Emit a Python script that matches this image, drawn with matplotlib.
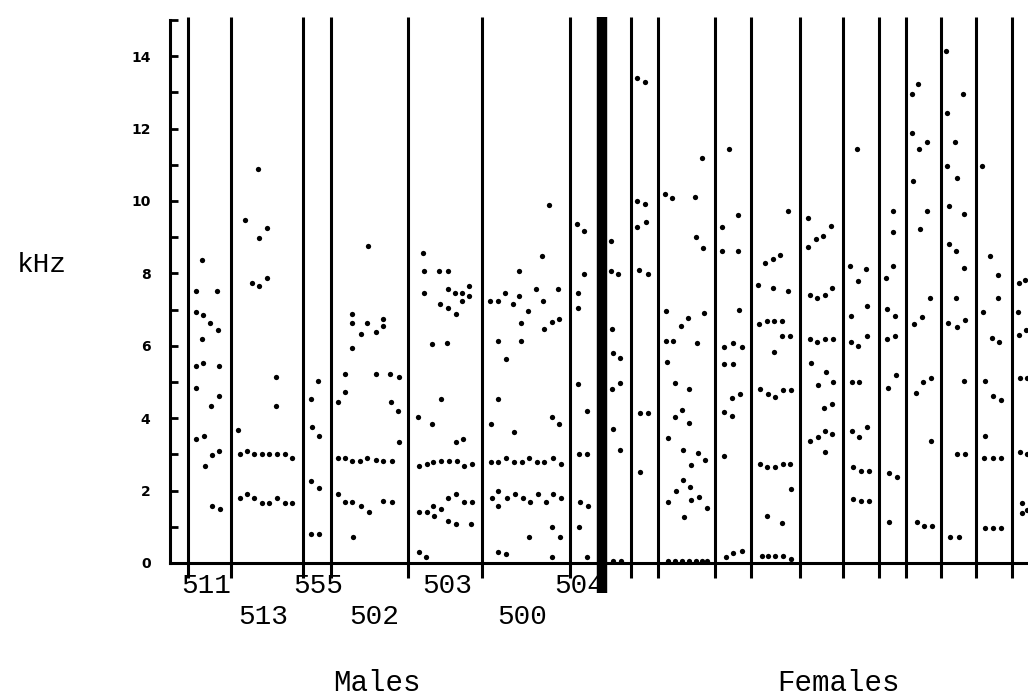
import matplotlib

matplotlib.use("Agg")
import matplotlib.pyplot as plt
from matplotlib.ticker import MultipleLocator

# formant points per speaker as (time, kHz)
m511 = [(32, 8.36), (26, 7.52), (47, 7.52), (26, 6.94), (33, 6.84), (40, 6.62),
        (48, 6.44), (32, 6.20), (26, 5.43), (33, 5.52), (49, 5.43), (26, 4.84),
        (49, 4.60), (41, 4.33), (26, 3.42), (34, 3.50), (35, 2.67), (42, 2.99),
        (49, 3.09), (42, 1.57), (50, 1.48)]
m513 = [(88, 10.88), (75, 9.48), (97, 9.25), (89, 8.97), (97, 7.87), (82, 7.73),
        (89, 7.65), (106, 5.13), (106, 4.34), (68, 3.68), (70, 3.00), (77, 3.09),
        (84, 3.0), (92, 3.0), (99, 3.0), (107, 3.0), (115, 3.0), (122, 2.91),
        (70, 1.79), (77, 1.91), (84, 1.79), (92, 1.67), (99, 1.67), (107, 1.79),
        (115, 1.67), (122, 1.67)]
m555 = [(148, 5.04), (141, 4.54), (142, 3.75), (149, 3.51), (141, 2.27),
        (149, 2.08), (141, 0.79), (149, 0.79)]
m502 = [(198, 8.76), (182, 6.87), (182, 6.64), (191, 6.32), (197, 6.64),
        (206, 6.37), (213, 6.56), (213, 6.74), (182, 5.95), (175, 5.21),
        (206, 5.21), (220, 5.22), (229, 5.13), (175, 4.72), (168, 4.45),
        (221, 4.45), (228, 4.21), (229, 3.33), (168, 2.91), (175, 2.91),
        (182, 2.82), (190, 2.82), (197, 2.91), (206, 2.85), (213, 2.82),
        (222, 2.82), (168, 1.91), (175, 1.69), (182, 1.69), (191, 1.58),
        (199, 1.40), (213, 1.72), (222, 1.68), (183, 0.71)]
m503 = [(253, 8.57), (254, 8.06), (269, 8.07), (278, 8.07), (254, 7.45),
        (278, 7.56), (285, 7.47), (292, 7.47), (299, 7.65), (299, 7.38),
        (292, 7.24), (270, 7.15), (278, 7.05), (286, 6.87), (262, 6.04),
        (277, 6.07), (271, 4.53), (248, 4.02), (262, 3.84), (286, 3.33),
        (293, 3.43), (249, 2.69), (257, 2.73), (263, 2.80), (271, 2.82),
        (279, 2.82), (287, 2.82), (294, 2.69), (302, 2.73), (249, 1.40),
        (257, 1.40), (264, 1.30), (263, 1.57), (271, 1.48), (278, 1.80),
        (286, 1.91), (294, 1.68), (302, 1.68), (278, 1.17), (286, 1.07),
        (301, 1.07), (249, 0.30), (256, 0.16)]
m500 = [(379, 9.90), (372, 8.48), (349, 8.06), (366, 7.56), (388, 7.56),
        (335, 7.45), (349, 7.38), (320, 7.24), (328, 7.24), (343, 7.15),
        (373, 7.24), (358, 6.96), (351, 6.64), (382, 6.65), (389, 6.73),
        (374, 6.46), (328, 6.13), (351, 6.13), (336, 5.64), (328, 4.53),
        (321, 3.84), (344, 3.61), (382, 4.02), (389, 3.84), (321, 2.80),
        (328, 2.80), (336, 2.91), (344, 2.80), (352, 2.80), (359, 2.91),
        (367, 2.80), (374, 2.80), (383, 2.91), (391, 2.73), (322, 1.80),
        (328, 2.00), (337, 1.79), (345, 1.91), (353, 1.79), (360, 1.68),
        (368, 1.91), (376, 1.68), (383, 1.91), (391, 1.79), (328, 1.57),
        (359, 0.71), (382, 0.99), (390, 0.71), (328, 0.30), (336, 0.24),
        (382, 0.16)]
m504 = [(407, 9.36), (414, 9.18), (414, 7.97), (408, 7.47), (408, 7.05),
        (408, 4.94), (417, 4.21), (409, 3.01), (417, 3.01), (410, 1.68),
        (418, 1.58), (409, 0.99), (417, 0.16)]

f1 = [(441, 8.90), (441, 8.07), (448, 7.98), (442, 6.46), (443, 5.79),
      (450, 5.65), (450, 4.96), (442, 4.80), (443, 3.70), (450, 3.12),
      (443, 0.06), (451, 0.06)]
f2 = [(467, 13.41), (475, 13.28), (467, 10.0), (475, 9.91), (467, 9.27),
      (476, 9.41), (469, 8.09), (478, 7.98), (470, 4.14), (478, 4.14),
      (470, 2.51)]
f3 = [(495, 10.18), (502, 10.09), (525, 10.10), (532, 11.20), (526, 9.00),
      (533, 8.69), (496, 6.97), (496, 6.14), (503, 6.14), (497, 5.56),
      (511, 6.56), (518, 6.76), (534, 6.90), (527, 6.07), (505, 4.96),
      (519, 4.80), (512, 4.23), (505, 4.04), (519, 3.86), (498, 3.44),
      (513, 3.12), (528, 3.05), (521, 2.71), (535, 2.85), (513, 2.29),
      (506, 2.00), (520, 2.09), (529, 1.83), (521, 1.74), (498, 1.69),
      (537, 1.51), (514, 1.28), (498, 0.06), (505, 0.06), (512, 0.06),
      (519, 0.06), (526, 0.06), (532, 0.06), (537, 0.06)]
f4 = [(559, 11.43), (568, 9.61), (552, 9.29), (552, 8.62), (568, 8.62),
      (569, 6.99), (554, 5.98), (563, 6.09), (572, 5.98), (554, 5.49),
      (563, 5.49), (562, 4.57), (570, 4.66), (554, 4.16), (562, 4.06),
      (554, 2.96), (556, 0.17), (563, 0.27), (572, 0.33)]
f5 = [(618, 9.72), (595, 8.30), (603, 8.39), (610, 8.51), (588, 7.68),
      (603, 7.61), (618, 7.51), (589, 6.59), (597, 6.69), (604, 6.69),
      (612, 6.69), (612, 6.28), (620, 6.28), (604, 5.82), (590, 4.81),
      (598, 4.66), (605, 4.58), (613, 4.78), (621, 4.78), (590, 2.73),
      (597, 2.64), (605, 2.64), (613, 2.73), (620, 2.73), (621, 2.04),
      (597, 1.30), (612, 1.11), (592, 0.19), (598, 0.19), (605, 0.19),
      (613, 0.19), (621, 0.10)]
f6 = [(638, 9.54), (646, 8.95), (638, 8.72), (653, 9.03), (661, 9.31),
      (640, 7.40), (647, 7.32), (655, 7.40), (662, 7.61), (640, 6.19),
      (647, 6.10), (655, 6.19), (663, 6.19), (641, 5.52), (656, 5.29),
      (648, 4.91), (663, 5.01), (654, 4.27), (662, 4.39), (640, 3.38),
      (648, 3.47), (655, 3.65), (662, 3.56), (655, 3.06)]
f7 = [(687, 11.44), (680, 8.20), (696, 8.11), (688, 7.78), (681, 6.82),
      (697, 7.11), (681, 6.10), (688, 6.00), (697, 6.28), (682, 5.01),
      (689, 5.01), (682, 3.65), (689, 3.47), (697, 3.77), (683, 2.64),
      (691, 2.54), (699, 2.54), (683, 1.77), (691, 1.72), (699, 1.72)]
f8 = [(723, 9.73), (723, 9.15), (723, 8.21), (716, 7.86), (717, 7.02),
      (725, 6.83), (717, 6.19), (725, 6.28), (718, 4.84), (726, 5.19),
      (719, 2.48), (727, 2.38), (719, 1.14)]
f9 = [(748, 13.23), (742, 12.96), (742, 11.87), (749, 11.44), (757, 11.64),
      (743, 10.55), (757, 9.73), (750, 9.22), (760, 7.31), (752, 6.79),
      (744, 6.60), (746, 4.69), (753, 5.01), (761, 5.10), (761, 3.38),
      (747, 1.14), (754, 1.03), (762, 1.03)]
f10 = [(776, 14.14), (777, 12.42), (793, 12.96), (785, 11.64), (777, 10.97),
       (787, 10.63), (779, 9.87), (794, 9.64), (779, 8.81), (786, 8.63),
       (794, 8.14), (786, 7.31), (778, 6.62), (787, 6.51), (795, 6.71),
       (794, 5.03), (787, 3.00), (795, 3.00), (780, 0.73), (789, 0.73)]
f11 = [(812, 10.97), (820, 8.48), (828, 7.95), (828, 7.31), (813, 6.93),
       (822, 6.21), (829, 6.11), (815, 5.04), (823, 4.61), (831, 4.50),
       (815, 3.51), (814, 2.89), (823, 2.89), (831, 2.89), (815, 0.96),
       (823, 0.96), (831, 0.96)]
f12 = [(849, 7.73), (855, 7.82), (848, 6.93), (856, 6.44), (849, 6.30),
       (850, 5.12), (857, 5.12), (850, 3.07), (857, 3.00), (852, 1.67),
       (852, 1.37), (857, 1.46)]

male_names = ["511", "513", "555", "502", "503", "500", "504"]
male_bounds = [18, 61, 133, 161, 238, 312, 400]
divider = 432
female_bounds = [461, 488, 545, 581, 630, 673, 709, 736, 771, 806, 842]

speakers = [m511, m513, m555, m502, m503, m500, m504,
            f1, f2, f3, f4, f5, f6, f7, f8, f9, f10, f11, f12]

MONO = "Liberation Mono"

fig = plt.figure(figsize=(10.28, 6.97), dpi=100)
ax = fig.add_axes([170 / 1028, 134 / 697, 858 / 1028, 543 / 697])
ax.set_xlim(0, 858)
ax.set_ylim(0, 15)

for pts in speakers:
    t, f = zip(*pts)
    ax.plot(t, f, "o", ms=3.8, color="black", mew=0)

# speaker separators, drawn a bit past the axes like in the original
ax.vlines(male_bounds + female_bounds, -0.41, 15.08, color="black", lw=2.2, clip_on=False)
ax.vlines(divider, -0.83, 15.08, color="black", lw=7.5, clip_on=False)

for s in ("top", "right"):
    ax.spines[s].set_visible(False)
for s in ("left", "bottom"):
    ax.spines[s].set_linewidth(2.2)

ax.set_xticks([])
ax.yaxis.set_major_locator(MultipleLocator(2))
ax.yaxis.set_minor_locator(MultipleLocator(1))
ax.tick_params(axis="y", which="both", direction="in", length=6, width=2, pad=14)
for lab in ax.get_yticklabels():
    lab.set_fontweight("bold")
    lab.set_fontsize(10)

# speaker ids, alternating in two rows
label_x = [36, 93, 148, 204, 277, 352, 409]
for i, (name, x) in enumerate(zip(male_names, label_x)):
    y = -0.64 if i % 2 == 0 else -1.49
    ax.text(x, y, name, ha="center", va="center", family=MONO, fontsize=20, clip_on=False)

ax.text(-128, 8.23, "kHz", ha="center", va="center", family=MONO, fontsize=20)
ax.text(207, -3.31, "Males", ha="center", va="center", family=MONO, fontsize=21)
ax.text(669, -3.31, "Females", ha="center", va="center", family=MONO, fontsize=21)

fig.savefig("out.png", dpi=100)
